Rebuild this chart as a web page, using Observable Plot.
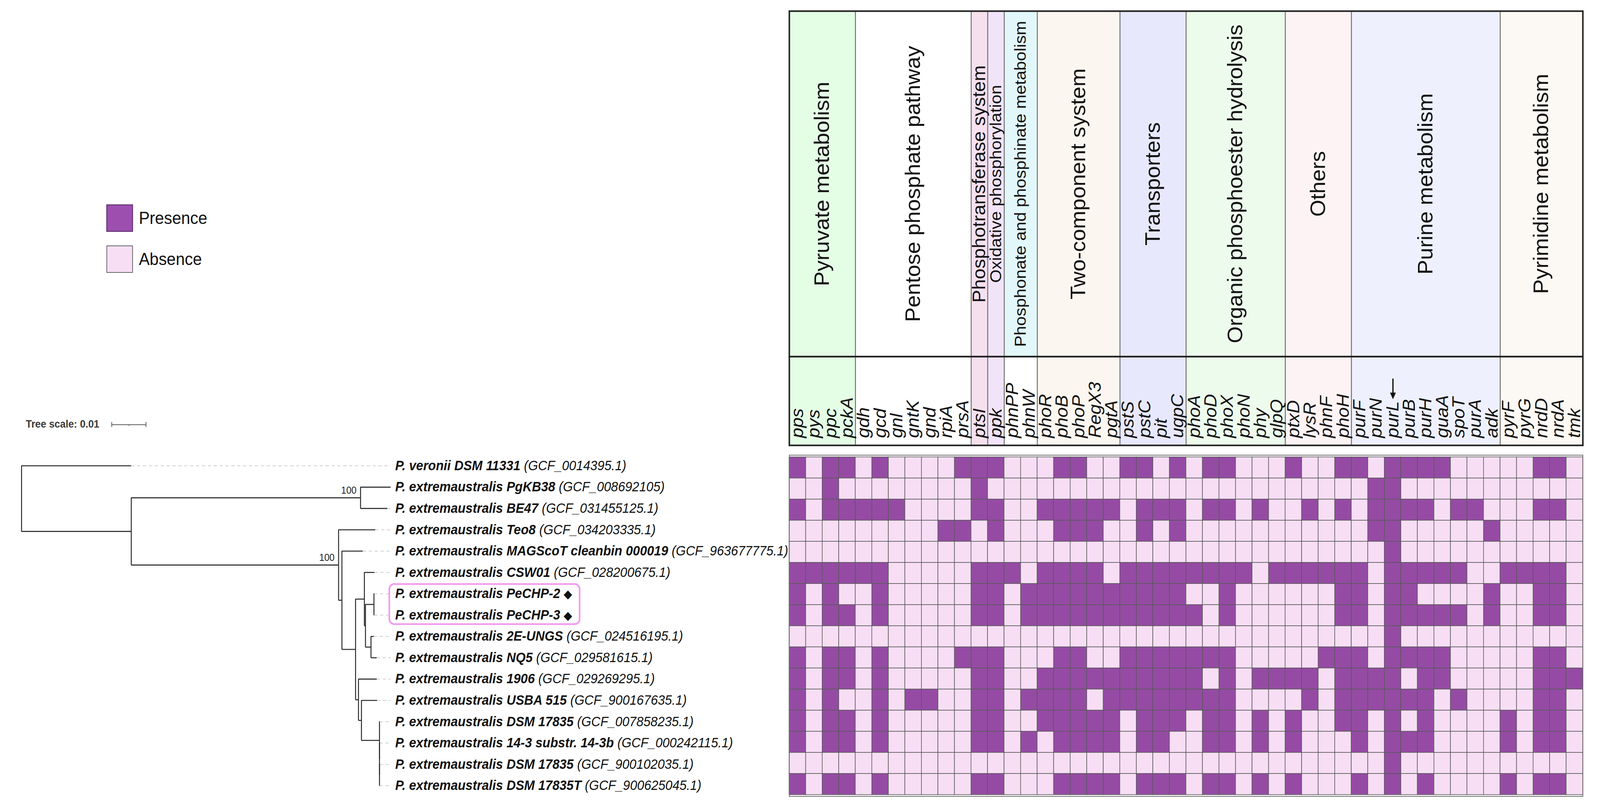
<!DOCTYPE html>
<html><head><meta charset="utf-8">
<script src="https://cdn.jsdelivr.net/npm/d3@7"></script>
<script src="https://cdn.jsdelivr.net/npm/@observablehq/plot@0.6"></script>
<style>
html,body{margin:0;padding:0;background:#fff;overflow:hidden}
#page{width:4345px;height:2057px;position:relative;overflow:hidden;background:#fff;font-family:"Liberation Sans",Arial,Helvetica,sans-serif;transform-origin:0 0}
.abs{position:absolute}
svg{overflow:visible}
</style></head><body>
<div id="page"></div>
<script>
// ---------------- DATA ----------------
const categories = ["Pyruvate metabolism", "Pentose phosphate pathway", "Phosphotransferase system",
  "Oxidative phosphorylation", "Phosphonate and phosphinate metabolism", "Two-component system",
  "Transporters", "Organic phosphoester hydrolysis", "Others", "Purine metabolism", "Pyrimidine metabolism"];
const categoryGenes = [
  ["pps","pys","ppc","pckA"],
  ["gdh","gcd","gnl","gntK","gnd","rpiA","prsA"],
  ["ptsI"],
  ["ppk"],
  ["phnPP","phnW"],
  ["phoR","phoB","phoP","RegX3","pgtA"],
  ["pstS","pstC","pit","ugpC"],
  ["phoA","phoD","phoX","phoN","phy","glpQ"],
  ["ptxD","lysR","phnF","phoH"],
  ["purF","purN","purL","purB","purH","guaA","spoT","purA","adk"],
  ["pyrF","pyrG","nrdD","nrdA","tmk"]
];
const categoryColors = ["#e4fde5","#ffffff","#f5e0ee","#f1e4f8","#e2f7fa","#fcf6f0","#e8e8fc","#edfbed","#fdf3f4","#eef1fd","#fcf8f3"];
const geneRowColors  = ["#e4fde5","#ffffff","#f5e0ee","#f1e4f8","#ffffff","#fcf6f0","#e8e8fc","#edfbed","#fdf3f4","#eef1fd","#fcf8f3"];

const strainNames = ["P. veronii DSM 11331", "P. extremaustralis PgKB38", "P. extremaustralis BE47",
  "P. extremaustralis Teo8", "P. extremaustralis MAGScoT cleanbin 000019", "P. extremaustralis CSW01",
  "P. extremaustralis PeCHP-2", "P. extremaustralis PeCHP-3", "P. extremaustralis 2E-UNGS",
  "P. extremaustralis NQ5", "P. extremaustralis 1906", "P. extremaustralis USBA 515",
  "P. extremaustralis DSM 17835", "P. extremaustralis 14-3 substr. 14-3b", "P. extremaustralis DSM 17835",
  "P. extremaustralis DSM 17835T"];
const accessions = ["GCF_0014395.1","GCF_008692105","GCF_031455125.1","GCF_034203335.1","GCF_963677775.1",
  "GCF_028200675.1","","","GCF_024516195.1","GCF_029581615.1","GCF_029269295.1","GCF_900167635.1",
  "GCF_007858235.1","GCF_000242115.1","GCF_900102035.1","GCF_900625045.1"];
const studyStrains = [6, 7]; // marked with a diamond and boxed

// presence (1) / absence (0), one string per strain, genes in header order
const presence = [
  "101101000011 100011001101 011000100110 111100000110",
  "001000000001 000000000000 000000000001 100000000000",
  "101111100001 100111110111 011010010101 111011000110",
  "000000000110 100011100101 000000000001 100000100000",
  "000000000000 000000000000 000000000000 100000000000",
  "111111000001 110111101111 111101111110 111110011110",
  "101001000001 101111111111 001000000110 110000100110",
  "101101000001 101111111111 101000000110 111110100110",
  "000000000000 000000000000 000000000000 100000000000",
  "101101000011 100011001111 111000001110 111100000110",
  "101101000001 100111111111 101011110111 101100000111",
  "101001011001 101111011111 111000010111 111010000110",
  "101101000001 100111110111 011010100110 101000010110",
  "101101000001 101011110110 011010100010 111000010110",
  "000000000000 000000000000 000000000000 100000000000",
  "101101000001 100011110111 011010100010 101000010110"
];

// phylogeny (tip names are strain row indices), branch lengths in substitutions/site
const newick = "(0:0.03204,((1:0.00883,2:0.00789)100:0.06695,(3:0.01075,(4:0.00613,((5:0.00301,((6:0.00011,7:0.00011):0.00247,(8:0.00086,9:0.00172):0.00161):0.00032):0.00258,(10:0.00538,(11:0.00462,(12:0.0001,(13:0.0001,(14:0.0001,15:0.0001):0):0):0.00527):0.00086):0.00086):0.00398):0.00097)100:0.06054):0.03204);";
const scaleBarLength = 0.01;
const legendItems = ["Presence", "Absence"];

// ---------------- STYLE / LAYOUT ----------------
const FONT = '"Liberation Sans", Arial, Helvetica, sans-serif';
const PRES = "#954ba4", ABS = "#f7def5";
const GX = 2143, GW = 2155, M = 4;
const HEAD_TOP = 28, CAT_H = 884, GENE_H = 227, HM_TOP = 1164, HM_H = 873;
const ROOT_X = 58, PX_PER_UNIT = 9300;
const catFont = {"Phosphotransferase system": 49, "Oxidative phosphorylation": 44, "Phosphonate and phosphinate metabolism": 44};
const page = document.getElementById("page");

function place(node, left, top) {
  const d = document.createElement("div");
  d.className = "abs"; d.style.left = left + "px"; d.style.top = top + "px";
  d.appendChild(node); page.appendChild(d); return node;
}
function addDiv(css, text) {
  const d = document.createElement("div");
  d.className = "abs"; d.style.cssText += css;
  if (text != null) d.textContent = text;
  page.appendChild(d); return d;
}

const genes = categoryGenes.flat();
let acc = 0;
const catRows = categories.map((name, k) => {
  const s = acc; acc += categoryGenes[k].length;
  return {name, start: s, end: acc, color: categoryColors[k], gcolor: geneRowColors[k]};
});
const nG = genes.length;

// ---------- category header ----------
const catPlot = Plot.plot({
  width: GW + 2 * M, height: CAT_H + 2 * M, margin: M,
  style: {fontFamily: FONT, background: "transparent"},
  x: {domain: [0, nG], range: [M, M + GW], axis: null},
  marks: [
    Plot.rect(catRows, {x1: "start", x2: "end", fill: "color"}),
    Plot.ruleX(catRows.slice(1), {x: "start", stroke: "#6d6d6d", strokeWidth: 2.5}),
    Plot.text(catRows, {x: d => (d.start + d.end) / 2, text: "name", rotate: -90, frameAnchor: "middle",
      fontSize: d => catFont[d.name] || 56, fill: "#111", lineAnchor: "middle"}),
    Plot.frame({stroke: "#1e1e1e", strokeWidth: 4})
  ]
});
place(catPlot, GX - M, HEAD_TOP - M);

// ---------- gene header ----------
const genePlot = Plot.plot({
  width: GW + 2 * M, height: GENE_H + 2 * M, margin: M,
  style: {fontFamily: FONT, background: "transparent"},
  x: {domain: [0, nG], range: [M, M + GW], axis: null},
  marks: [
    Plot.rect(catRows, {x1: "start", x2: "end", fill: "gcolor"}),
    Plot.ruleX(catRows.slice(1), {x: "start", stroke: "#6d6d6d", strokeWidth: 2.5}),
    Plot.text(genes, {x: (d, i) => i + 0.5, text: d => d, rotate: -90, frameAnchor: "bottom", dy: -19,
      textAnchor: "start", lineAnchor: "middle", fontSize: 47, fontStyle: "italic", fill: "#111"}),
    Plot.frame({stroke: "#1e1e1e", strokeWidth: 4})
  ]
});
place(genePlot, GX - M, HEAD_TOP + CAT_H - M);

// ---------- heatmap ----------
const cells = [];
presence.forEach((s, r) => s.replace(/\s/g, "").split("").forEach((c, g) => cells.push({row: r, gene: genes[g], v: +c})));
const hmPlot = Plot.plot({
  width: GW + 2 * M, height: HM_H + 2 * M, margin: M,
  style: {fontFamily: FONT, background: "transparent"},
  x: {type: "band", domain: genes, range: [M, M + GW], padding: 0, axis: null},
  y: {type: "band", domain: d3.range(strainNames.length), range: [M, M + HM_H], padding: 0, axis: null},
  color: {type: "ordinal", domain: [0, 1], range: [ABS, PRES]},
  marks: [
    Plot.cell(cells, {x: "gene", y: "row", fill: "v", stroke: "#5a5a5a", strokeWidth: 1.6, inset: 0}),
    Plot.frame({stroke: "#6a6a6a", strokeWidth: 2})
  ]
});
place(hmPlot, GX - M, HM_TOP - M);

// ---------- tree ----------
function parseNewick(s) {
  let i = 0;
  function node() {
    const n = {children: []};
    if (s[i] === "(") {
      i++; n.children.push(node());
      while (s[i] === ",") { i++; n.children.push(node()); }
      i++;
    }
    let name = "";
    while (i < s.length && !":,);".includes(s[i])) name += s[i++];
    n.name = name;
    n.length = 0;
    if (s[i] === ":") { i++; let num = ""; while (i < s.length && !",);".includes(s[i])) num += s[i++]; n.length = +num; }
    return n;
  }
  return node();
}
const tree = parseNewick(newick);
const allNodes = [];
(function layout(n, parent) {
  n.depth = (parent ? parent.depth : 0) + n.length;
  n.parent = parent;
  n.children.forEach(c => layout(c, n));
  if (n.children.length) n.y = (n.children[0].y + n.children[n.children.length - 1].y) / 2;
  else n.y = +n.name;
  allNodes.push(n);
})(tree, null);
const tips = allNodes.filter(n => !n.children.length).sort((a, b) => a.y - b.y);
const internals = allNodes.filter(n => n.children.length);
const maxDepth = d3.max(tips, d => d.depth);
const nonRoot = allNodes.filter(n => n.parent);

const TREE_TOP = 1040, TREE_W = 2140, TREE_H = 1017;
const treePlot = Plot.plot({
  width: TREE_W, height: TREE_H, margin: 0,
  style: {fontFamily: FONT, background: "transparent"},
  x: {domain: [0, 0.1], range: [ROOT_X, ROOT_X + 0.1 * PX_PER_UNIT], axis: null},
  y: {domain: [-0.5, strainNames.length - 0.5], range: [HM_TOP - TREE_TOP, HM_TOP - TREE_TOP + HM_H], axis: null},
  marks: [
    Plot.ruleY(tips, {y: "y", x1: "depth", x2: maxDepth, stroke: "#cfcfcf", strokeWidth: 2, strokeDasharray: "9,7"}),
    Plot.ruleY(nonRoot, {y: "y", x1: d => d.parent.depth, x2: "depth", stroke: "#2a2a2a", strokeWidth: 2.6}),
    Plot.ruleX(internals, {x: "depth", y1: d => d.children[0].y, y2: d => d.children[d.children.length - 1].y, stroke: "#2a2a2a", strokeWidth: 2.6}),
    Plot.text(internals.filter(d => d.name), {x: "depth", y: "y", text: "name", dx: -11, dy: -19, textAnchor: "end", fontSize: 25, fill: "#222"}),
    Plot.text(tips, {x: maxDepth, y: "y", text: d => strainNames[+d.name], dx: 12, textAnchor: "start",
      fontSize: 34.5, fontWeight: "bold", fontStyle: "italic", fill: "#111"})
  ]
});
place(treePlot, 0, TREE_TOP);

// ---------- tree scale ----------
const sbW = scaleBarLength * PX_PER_UNIT;
const scalePlot = Plot.plot({
  width: sbW + 20, height: 16, margin: 0,
  style: {background: "transparent"},
  x: {domain: [0, scaleBarLength], range: [10, 10 + sbW], axis: null},
  y: {domain: [-1, 1], range: [16, 0], axis: null},
  marks: [
    Plot.ruleY([0], {x1: 0, x2: scaleBarLength, stroke: "#555", strokeWidth: 2}),
    Plot.ruleX([0, scaleBarLength], {y1: -0.8, y2: 0.8, stroke: "#555", strokeWidth: 2}),
    Plot.ruleX([scaleBarLength / 2], {y1: -0.5, y2: 0, stroke: "#555", strokeWidth: 1.5})
  ]
});
place(scalePlot, 293, 1078);
addDiv("left:70px;top:1068px;font-size:27px;font-weight:bold;color:#3a3a3a;line-height:34px;white-space:nowrap;", "Tree scale: " + scaleBarLength);

// ---------- legend ----------
legendItems.forEach((lab, k) => {
  addDiv(`left:289px;top:${523 + k * 105}px;width:68px;height:66px;background:${k ? "#f7def5" : "#9d4faf"};border:2px solid ${k ? "#666" : "#4e2460"};`);
  addDiv(`left:377px;top:${530 + k * 105}px;font-size:44px;line-height:56px;color:#111;white-space:nowrap;`, lab);
});

// ---------- post-processing: accessions, diamonds, box, arrow ----------
try {
  const tipTexts = Array.from(treePlot.querySelectorAll("text")).filter(t => strainNames.includes(t.textContent));
  tipTexts.forEach((el, k) => {
    const row = +tips[k].name;
    const t = d3.select(el);
    if (studyStrains.includes(row)) {
      t.append("tspan").attr("font-weight", "normal").attr("font-style", "normal")
        .attr("font-family", "DejaVu Sans").attr("font-size", 30).text(" \u25C6");
    } else {
      t.append("tspan").attr("font-weight", "normal").text(" (" + accessions[row] + ")");
    }
  });
  const boxed = tipTexts.filter((el, k) => studyStrains.includes(+tips[k].name));
  if (boxed.length) {
    const sr = treePlot.getBoundingClientRect();
    const bb = boxed.map(el => el.getBoundingClientRect());
    const x0 = d3.min(bb, b => b.left) - sr.left - 16, x1 = d3.max(bb, b => b.right) - sr.left + 20;
    const y0 = d3.min(bb, b => b.top) - sr.top - 5, y1 = d3.max(bb, b => b.bottom) - sr.top + 5;
    d3.select(treePlot).append("rect").attr("x", x0).attr("y", y0).attr("width", x1 - x0).attr("height", y1 - y0)
      .attr("rx", 13).attr("fill", "none").attr("stroke", "#f29cf0").attr("stroke-width", 4.5);
  }
} catch (e) { console.log("label post", e); }

try {
  const el = Array.from(genePlot.querySelectorAll("text")).find(t => t.textContent === "purL");
  if (el) {
    const svgR = genePlot.getBoundingClientRect();
    const r = el.getBoundingClientRect();
    const cx = r.left + r.width / 2 - svgR.left + 2, top = r.top - svgR.top;
    const g = d3.select(genePlot).append("g");
    g.append("line").attr("x1", cx).attr("x2", cx).attr("y1", top - 58).attr("y2", top - 18).attr("stroke", "#111").attr("stroke-width", 3.5);
    g.append("path").attr("d", `M${cx - 8},${top - 22}L${cx + 8},${top - 22}L${cx},${top - 5}Z`).attr("fill", "#111");
  }
} catch (e) { console.log("arrow", e); }

// fit the 4345x2057 design into the actual viewport
const sx = window.innerWidth / 4345, sy = window.innerHeight / 2057;
if (Math.abs(sx - 1) > 0.001 || Math.abs(sy - 1) > 0.001) page.style.transform = `scale(${sx}, ${sy})`;
</script>
</body></html>
